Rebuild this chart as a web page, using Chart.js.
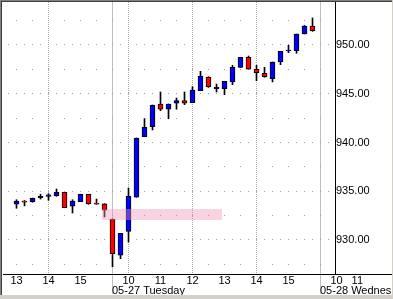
<!DOCTYPE html>
<html><head><meta charset="utf-8">
<script src="https://cdn.jsdelivr.net/npm/chart.js@4/dist/chart.umd.min.js"></script>
<style>html,body{margin:0;padding:0;background:#fff;overflow:hidden}canvas{display:block}</style>
</head><body>
<canvas id="c" width="393" height="299"></canvas>
<script>
// 15-minute bar slots (0 = 13:00 previous day, 12 = 09:30 on 05-27)
const slots  = [0,1,2,3,4,5,6,7,8,9,10,11,12,13,14,15,16,17,18,19,20,21,22,23,24,25,26,27,28,29,30,31,32,33,34,35,36,37];
const opens  = [933.66,934.00,933.93,934.34,934.48,934.54,934.89,933.46,933.93,934.69,933.79,933.72,
                932.15,928.43,930.89,934.38,940.60,941.62,943.95,943.41,944.02,944.29,944.08,945.31,946.69,945.52,
                945.52,946.21,947.71,948.74,947.51,947.10,946.54,948.26,949.38,949.42,951.13,951.95];
const highs  = [934.13,934.05,934.30,934.69,934.75,935.23,934.89,934.13,934.69,934.69,934.20,933.72,
                932.15,930.69,935.33,940.46,942.44,943.85,945.18,943.95,944.56,945.18,945.72,947.30,946.75,946.00,
                946.28,947.92,948.74,948.87,947.92,947.71,948.26,949.35,949.97,951.13,952.00,952.77];
const lows   = [933.25,933.50,933.87,934.20,934.07,934.48,933.31,932.77,933.93,933.66,933.66,932.36,
                927.26,928.08,929.79,934.38,940.60,941.28,943.26,942.44,943.41,943.88,944.08,945.31,945.65,945.18,
                944.90,945.93,947.71,947.51,946.34,946.69,946.21,947.98,949.21,949.15,951.13,951.40];
const closes = [934.00,933.87,934.28,934.48,934.62,934.89,933.31,934.00,934.69,933.72,933.66,933.05,
                928.60,930.69,934.51,940.46,941.56,943.82,943.41,943.95,944.29,944.02,945.38,946.82,945.72,945.65,
                946.28,947.71,948.74,947.51,947.16,946.75,948.26,949.35,949.48,951.13,951.95,951.47];

const xTickValues = [0,4,8,12,14,18,22,26,30,34,38];
const xTickLabels = ['13','14','15','','10','11','12','13','14','15',''];
const gridSlots   = [4,14,22,30];
const daySlots    = [12,38];
const dayLabels   = ['05-27 Tuesday','05-28 Wednesday'];
const nextDaySlots  = [40,42.6];
const nextDayLabels = ['10','11'];
const yTickValues = [927.5,930,932.5,935,937.5,940,942.5,945,947.5,950,952.5];
const bandSlots  = [10.7,25.7];
const bandPrices = [932.05,933.2];

const UP='#0000ff', DOWN='#ff0000';
const bodyData = slots.map((s,i)=>({x:s,y:[Math.min(opens[i],closes[i]),Math.max(opens[i],closes[i])]}));
const wickData = slots.map((s,i)=>({x:s,y:[lows[i],highs[i]]}));
const bodyColors = slots.map((s,i)=>closes[i]>=opens[i]?UP:DOWN);

Chart.defaults.font.family = "'Liberation Sans', Arial, sans-serif";
Chart.defaults.font.size = 11;
Chart.defaults.color = '#000';

const FONT = "11px 'Liberation Sans', Arial, sans-serif";

const framePlugin = {
  id:'frame',
  beforeDraw(chart){
    const ctx = chart.ctx;
    ctx.save();
    ctx.fillStyle='#fff';
    ctx.fillRect(0,0,chart.width,chart.height);
    ctx.restore();
  },
  afterDatasetsDraw(chart){
    const {ctx, scales:{x,y}} = chart;
    const x1=x.getPixelForValue(bandSlots[0]), x2=x.getPixelForValue(bandSlots[1]);
    const y1=y.getPixelForValue(bandPrices[1]), y2=y.getPixelForValue(bandPrices[0]);
    ctx.save();
    ctx.fillStyle='rgba(240,150,186,0.42)';
    ctx.fillRect(Math.round(x1),Math.round(y1),Math.round(x2-x1),Math.round(y2-y1));
    ctx.restore();
  },
  afterDraw(chart){
    const {ctx, scales:{x}} = chart;
    const W=chart.width, H=chart.height;
    ctx.save();
    ctx.strokeStyle='#000'; ctx.lineWidth=1;
    ctx.beginPath(); ctx.moveTo(chart.chartArea.right, x.top+0.5); ctx.lineTo(W, x.top+0.5); ctx.stroke();
    ctx.fillStyle='#000'; ctx.font=FONT; ctx.textBaseline='middle'; ctx.textAlign='center';
    const ly = x.top + 7.1;
    nextDaySlots.forEach((v,i)=>ctx.fillText(nextDayLabels[i], x.getPixelForValue(v), ly));
    ctx.beginPath(); ctx.rect(0,0,W-2,H); ctx.clip();
    ctx.textAlign='left'; ctx.textBaseline='alphabetic';
    daySlots.forEach((v,i)=>ctx.fillText(dayLabels[i], Math.floor(x.getPixelForValue(v)), 294));
    ctx.restore();
    ctx.save();
    ctx.fillStyle='#808080'; ctx.fillRect(0,0,W,1); ctx.fillRect(0,0,1,H);
    ctx.fillStyle='#404040'; ctx.fillRect(1,1,W-1,1); ctx.fillRect(1,1,1,H-1);
    ctx.fillStyle='#d4d0c8'; ctx.fillRect(0,H-4,W,4); ctx.fillRect(W-1,0,1,H);
    ctx.restore();
  }
};

new Chart(document.getElementById('c'),{
  type:'bar',
  data:{datasets:[
    {label:'body',data:bodyData,backgroundColor:bodyColors,borderColor:'#000',borderWidth:1,borderSkipped:false,barThickness:5,grouped:false,order:0},
    {label:'wick',data:wickData,backgroundColor:'#000',borderWidth:0,barThickness:1,grouped:false,order:1}
  ]},
  options:{
    responsive:false, animation:false, devicePixelRatio:1,
    layout:{padding:{left:3,top:2,right:0,bottom:0}},
    plugins:{legend:{display:false},tooltip:{enabled:false}},
    scales:{
      x:{type:'linear',min:-1.6875,max:39.8125,offset:false,
        afterBuildTicks:s=>{s.ticks=xTickValues.map(v=>({value:v}));},
        afterFit:s=>{s.height=25; s.paddingLeft=0; s.paddingRight=0;},
        ticks:{autoSkip:false,maxRotation:0,minRotation:0,padding:-20,
          callback:v=>{const k=xTickValues.indexOf(v);return k>=0?xTickLabels[k]:'';}},
        grid:{offset:false,drawOnChartArea:true,drawTicks:true,tickLength:20,lineWidth:1,
          color:c=>{const v=c.tick&&c.tick.value; if(daySlots.includes(v))return '#c0c0c0'; if(gridSlots.includes(v))return '#a8a8a8'; return 'rgba(0,0,0,0)';},
          tickColor:c=>{const v=c.tick&&c.tick.value; return daySlots.includes(v)?'#c0c0c0':'rgba(0,0,0,0)';}},
        border:{display:true,color:'#000',width:1,
          dash:c=>{const v=c.tick&&c.tick.value; return gridSlots.includes(v)?[1,1]:[];}}
      },
      y:{type:'linear',position:'right',min:926.51,max:954.41,beginAtZero:false,
        afterBuildTicks:s=>{s.ticks=yTickValues.map(v=>({value:v}));},
        afterFit:s=>{s.width=58; s.paddingTop=0; s.paddingBottom=0;},
        ticks:{autoSkip:false,padding:1,callback:v=>(Math.abs(v%5)<1e-9?v.toFixed(2):'')},
        grid:{drawTicks:false,color:'#a0a0a0',lineWidth:1},
        border:{display:true,color:'#000',width:1,dashOffset:3,
          dash:c=>{const v=c.tick&&c.tick.value; if(v===undefined)return []; return Math.abs(v%5)<1e-9?[1,7]:[1,15];}}
      }
    }
  },
  plugins:[framePlugin]
});
</script>
</body></html>
